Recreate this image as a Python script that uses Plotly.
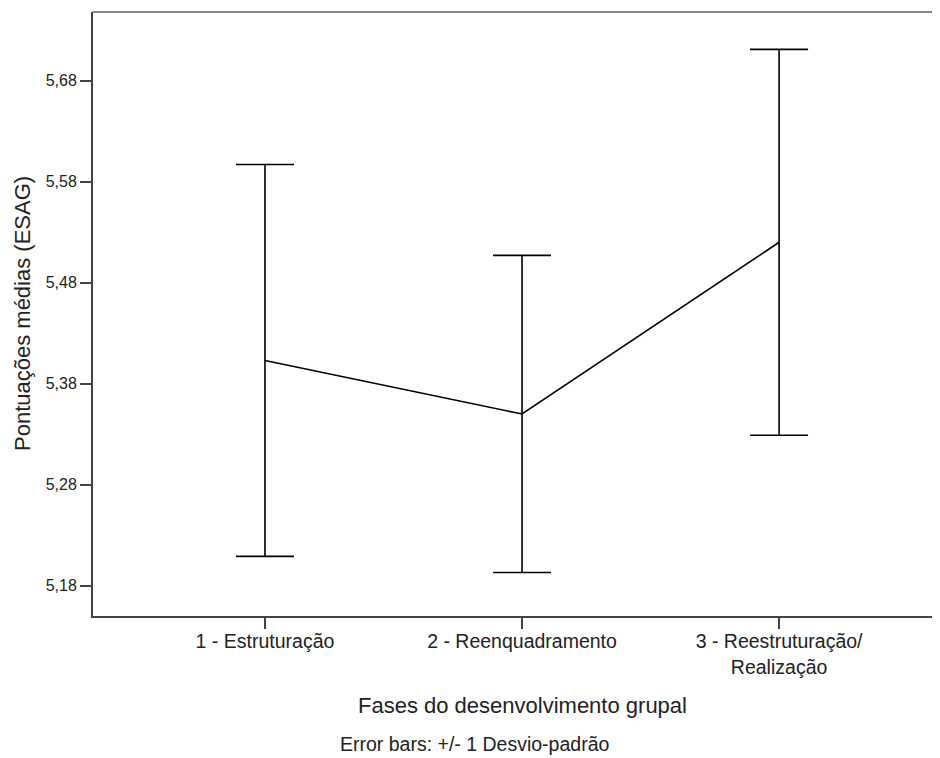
import plotly.graph_objects as go

categories = ["1 - Estruturação", "2 - Reenquadramento", "3 - Reestruturação/<br>Realização"]
means = [5.403, 5.350, 5.520]
sds = [0.194, 0.157, 0.191]
y_ticks = [5.18, 5.28, 5.38, 5.48, 5.58, 5.68]

xpos = list(range(len(categories)))

fig = go.Figure()
fig.add_trace(go.Scatter(
    x=xpos, y=means, mode="lines",
    line=dict(color="black", width=1.6),
    error_y=dict(type="data", array=sds, visible=True, color="black", thickness=1.6, width=29),
    showlegend=False, hoverinfo="skip",
))

font = "Liberation Sans, Arial, sans-serif"
txt = "#222"
fig.update_layout(
    width=932, height=750,
    margin=dict(l=85, r=0, t=4, b=142),
    paper_bgcolor="white", plot_bgcolor="white",
    separators=",.",
    font=dict(family=font, color=txt),
    xaxis=dict(
        range=[-0.669, 2.626], tickvals=xpos, ticktext=categories,
        showgrid=False, zeroline=False,
        showline=True, linecolor="#444", linewidth=2,
        ticks="outside", ticklen=11, tickcolor="#444", tickwidth=1.5,
        ticklabelstandoff=-4,
        tickfont=dict(size=19.5, family=font, color=txt),
    ),
    yaxis=dict(
        range=[5.150, 5.748], tickvals=y_ticks, tickformat=".2f",
        showgrid=False, zeroline=False,
        showline=True, linecolor="#444", linewidth=2,
        ticks="outside", ticklen=11, tickcolor="#444", tickwidth=2,
        tickfont=dict(size=16, family=font, color=txt),
    ),
    shapes=[dict(type="line", xref="paper", yref="paper", x0=0, x1=1, y0=1, y1=1,
                 line=dict(color="#888", width=2))],
    annotations=[
        dict(text="Pontuações médias (ESAG)", xref="paper", yref="paper",
             x=-71/847, y=0.5, textangle=-90, showarrow=False,
             xanchor="center", yanchor="middle", font=dict(size=22, family=font, color=txt)),
        dict(text="Fases do desenvolvimento grupal", xref="paper", yref="paper",
             x=(522-93)/847, y=-(705-616)/604, showarrow=False,
             xanchor="center", yanchor="middle", font=dict(size=22, family=font, color=txt)),
        dict(text="Error bars: +/- 1 Desvio-padrão", xref="paper", yref="paper",
             x=(474-93)/847, y=-(744-616)/604, showarrow=False,
             xanchor="center", yanchor="middle", font=dict(size=19.5, family=font, color=txt)),
    ],
)

fig.write_html("out.html")
